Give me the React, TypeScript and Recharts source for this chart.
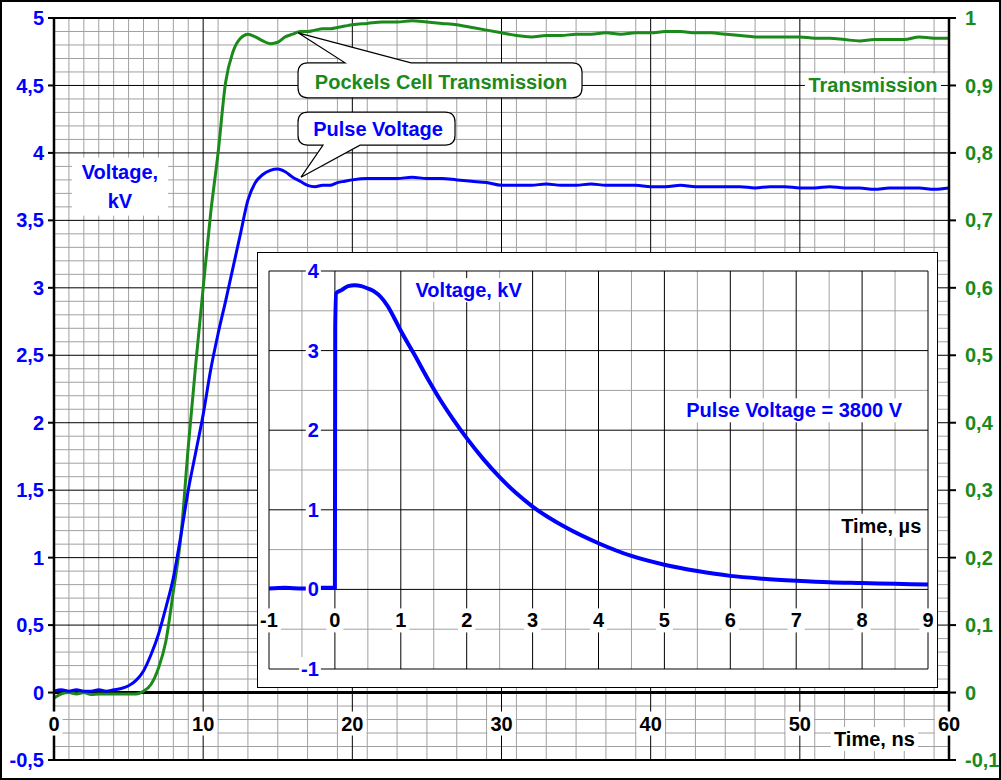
import React from 'react';
import {
  LineChart,
  Line,
  XAxis,
  YAxis,
  CartesianGrid,
  ReferenceLine,
  ReferenceDot,
} from 'recharts';

const FONT = '"Liberation Sans", Arial, Helvetica, sans-serif';
const BLUE = '#0000ff';
const GREEN = '#1b8a1b';
const GRID_MINOR = '#a0a0a0';

// ---------------------------------------------------------------------------
// main chart data (time in ns)
// ---------------------------------------------------------------------------
const TIME_NS = [
  0, 0.5, 1, 1.5, 2, 2.5, 3, 3.5, 4, 4.5, 5, 5.5, 6, 6.5, 7, 7.5, 8, 8.5, 9, 9.5,
  10, 10.5, 11, 11.5, 12, 12.5, 13, 13.5, 14, 14.5, 15, 15.5, 16, 16.5, 17, 17.5,
  18, 18.5, 19, 19.5, 20, 21, 22, 23, 24, 25, 26, 27, 28, 29, 30, 31, 32, 33, 34,
  35, 36, 37, 38, 39, 40, 41, 42, 43, 44, 45, 46, 47, 48, 49, 50, 51, 52, 53, 54,
  55, 56, 57, 58, 59, 60,
];

const VOLTAGE_KV = [
  0.01, 0.02, 0.01, 0.02, 0.01, 0.01, 0.02, 0.01, 0.02, 0.03,
  0.05, 0.09, 0.16, 0.28, 0.43, 0.63, 0.85, 1.16, 1.5, 1.78,
  2.06, 2.39, 2.66, 2.9, 3.15, 3.4, 3.65, 3.78, 3.84, 3.87,
  3.88, 3.86, 3.82, 3.79, 3.76, 3.75, 3.76, 3.76, 3.78, 3.79,
  3.8,
  3.81, 3.81, 3.81, 3.82, 3.81, 3.81, 3.8, 3.79, 3.78, 3.76,
  3.76, 3.76, 3.77, 3.76, 3.76, 3.77, 3.76, 3.76, 3.76, 3.75,
  3.75, 3.76, 3.75, 3.75, 3.75, 3.75, 3.74, 3.75, 3.75, 3.74,
  3.74, 3.75, 3.74, 3.74, 3.73, 3.74, 3.74, 3.74, 3.73, 3.74,
];

const TRANSMISSION = [
  -0.008, -0.002, 0, -0.002, 0, -0.003, -0.002, -0.002, -0.002, -0.002,
  -0.002, -0.002, 0.002, 0.012, 0.036, 0.076, 0.15, 0.23, 0.364, 0.486,
  0.6, 0.71, 0.8, 0.904, 0.95, 0.97, 0.976, 0.972, 0.966, 0.962,
  0.964, 0.972, 0.976, 0.98, 0.98, 0.982, 0.984, 0.984, 0.986, 0.988,
  0.99,
  0.992, 0.994, 0.994, 0.996, 0.994, 0.992, 0.99, 0.986, 0.982, 0.978,
  0.974, 0.972, 0.974, 0.974, 0.976, 0.976, 0.978, 0.976, 0.978, 0.978,
  0.98, 0.98, 0.978, 0.978, 0.976, 0.974, 0.972, 0.972, 0.972, 0.972,
  0.97, 0.97, 0.968, 0.966, 0.968, 0.968, 0.968, 0.972, 0.97, 0.97,
];

const X_TICKS_NS = [0, 10, 20, 30, 40, 50, 60];
const VOLT_TICKS = [-0.5, 0, 0.5, 1, 1.5, 2, 2.5, 3, 3.5, 4, 4.5, 5];
const TRANS_TICKS = [-0.1, 0, 0.1, 0.2, 0.3, 0.4, 0.5, 0.6, 0.7, 0.8, 0.9, 1];

// ---------------------------------------------------------------------------
// inset data (time in µs)
// ---------------------------------------------------------------------------
const TIME_US = [
  -1, -0.75, -0.5, -0.25, -0.02, 0, 0.005, 0.02, 0.1, 0.2, 0.3, 0.4, 0.5, 0.6,
  0.7, 0.8, 0.9, 1.0, 1.2, 1.4, 1.6, 1.8, 2.0, 2.25, 2.5, 2.75, 3.0, 3.5, 4.0,
  4.5, 5.0, 5.5, 6.0, 6.5, 7.0, 7.5, 8.0, 8.5, 9.0,
];

const INSET_VOLTAGE_KV = [
  0.01, 0.02, 0.01, 0.02, 0.02, 0.02, 3.3, 3.72, 3.76, 3.81, 3.82, 3.81, 3.78,
  3.74, 3.67, 3.56, 3.41, 3.25, 2.96, 2.66, 2.38, 2.13, 1.9, 1.64, 1.41, 1.21, 1.04,
  0.78, 0.58, 0.42, 0.31, 0.23, 0.17, 0.135, 0.11, 0.09, 0.08, 0.07, 0.06,
];

const INSET_X_TICKS = [-1, 0, 1, 2, 3, 4, 5, 6, 7, 8, 9];
const INSET_Y_TICKS = [-1, 0, 1, 2, 3, 4];

const mainData = TIME_NS.map((t, i) => ({ t, v: VOLTAGE_KV[i], tr: TRANSMISSION[i] }));
const insetData = TIME_US.map((t, i) => ({ t, v: INSET_VOLTAGE_KV[i] }));

// grid helpers
function steps(start: number, end: number, step: number): number[] {
  const n = Math.round((end - start) / step);
  return Array.from({ length: n + 1 }, (_, i) => +(start + i * step).toFixed(4));
}
const isMultiple = (v: number, m: number) => Math.abs(v / m - Math.round(v / m)) < 1e-6;

const MINOR_X_NS = steps(0, 60, 1).filter((v) => !isMultiple(v, 10));
const MINOR_Y_KV = steps(-0.5, 5, 0.1).filter((v) => !isMultiple(v, 0.5));
const INSET_MINOR_X = steps(-0.5, 8.5, 1);
const INSET_MINOR_Y = steps(-0.5, 3.5, 1);

const comma = (v: number) => String(v).replace('.', ',');

// ---------------------------------------------------------------------------
// text helpers
// ---------------------------------------------------------------------------
const CHAR_W: Record<string, number> = {
  '0': 0.556, '1': 0.556, '2': 0.556, '3': 0.556, '4': 0.556, '5': 0.556,
  '6': 0.556, '7': 0.556, '8': 0.556, '9': 0.556, ',': 0.278, '.': 0.278,
  '-': 0.333, ' ': 0.278, '=': 0.584, V: 0.667, P: 0.667, T: 0.611, C: 0.722,
  i: 0.278, l: 0.278, m: 0.889, e: 0.556, s: 0.556, n: 0.611, u: 0.611,
  'µ': 0.611, o: 0.611, t: 0.333, a: 0.556, g: 0.611, k: 0.556, r: 0.389, c: 0.556,
};
const textWidth = (s: string, size: number) =>
  s.split('').reduce((w, c) => w + (CHAR_W[c] ?? 0.6), 0) * size;

const LabelBox: React.FC<any> = ({ x, y, text, color = '#000', anchor = 'middle', pad = 3, bg = true }) => {
  const w = textWidth(text, 20);
  const left = anchor === 'middle' ? x - w / 2 : anchor === 'end' ? x - w : x;
  return (
    <g>
      {bg && <rect x={left - pad} y={y - 12} width={w + pad * 2} height={24} fill="#fff" />}
      <text
        x={x}
        y={y}
        textAnchor={anchor}
        dominantBaseline="central"
        fill={color}
        fontSize={20}
        fontWeight={700}
        fontFamily={FONT}
      >
        {text}
      </text>
    </g>
  );
};

// rounded box with a wedge pointing to the tip at (0, 0)
function calloutPath(
  x0: number, y0: number, x1: number, y1: number, r: number,
  side: 'top' | 'bottom', a: number, b: number,
) {
  const top = side === 'top' ? `L${a},${y0} L0,0 L${b},${y0} ` : '';
  const bottom = side === 'bottom' ? `L${b},${y1} L0,0 L${a},${y1} ` : '';
  return (
    `M${x0 + r},${y0} ${top}L${x1 - r},${y0} Q${x1},${y0} ${x1},${y0 + r} ` +
    `L${x1},${y1 - r} Q${x1},${y1} ${x1 - r},${y1} ${bottom}L${x0 + r},${y1} ` +
    `Q${x0},${y1} ${x0},${y1 - r} L${x0},${y0 + r} Q${x0},${y0} ${x0 + r},${y0} Z`
  );
}

const Callout: React.FC<any> = ({ cx, cy, box, side, a, b, text, color, tx, ty }) => (
  <g transform={`translate(${cx},${cy})`}>
    <path
      d={calloutPath(box[0], box[1], box[2], box[3], 10, side, a, b)}
      fill="#fff"
      stroke="#000"
      strokeWidth={1.2}
    />
    <LabelBox x={tx} y={ty} text={text} color={color} bg={false} />
  </g>
);

// ---------------------------------------------------------------------------
// inset chart
// ---------------------------------------------------------------------------
const InsetChart: React.FC = () => (
  <div
    style={{
      position: 'absolute',
      left: 257,
      top: 252,
      width: 681,
      height: 436,
      border: '1px solid #000',
      background: '#fff',
      boxSizing: 'border-box',
    }}
  >
    <LineChart
      width={679}
      height={434}
      data={insetData}
      margin={{ top: 18, right: 9, bottom: 18, left: 11 }}
    >
      <XAxis dataKey="t" type="number" domain={[-1, 9]} hide />
      <YAxis type="number" domain={[-1, 4]} hide />
      <CartesianGrid
        stroke={GRID_MINOR}
        verticalValues={INSET_MINOR_X}
        horizontalValues={INSET_MINOR_Y}
      />
      <CartesianGrid
        stroke="#000"
        verticalValues={INSET_X_TICKS}
        horizontalValues={INSET_Y_TICKS}
      />
      <Line
        dataKey="v"
        type="monotone"
        stroke={BLUE}
        strokeWidth={4}
        dot={false}
        isAnimationActive={false}
      />
      {INSET_X_TICKS.map((t) => (
        <ReferenceDot
          key={`ix${t}`}
          x={t}
          y={0}
          r={0}
          shape={(p: any) => <LabelBox x={p.cx} y={p.cy + 31} text={comma(t)} />}
        />
      ))}
      {INSET_Y_TICKS.map((v) => (
        <ReferenceDot
          key={`iy${v}`}
          x={0}
          y={v}
          r={0}
          shape={(p: any) => (
            <LabelBox x={p.cx - 16} y={p.cy} text={comma(v)} color={BLUE} anchor="end" pad={2} />
          )}
        />
      ))}
      <ReferenceDot
        x={2.03}
        y={3.76}
        r={0}
        shape={(p: any) => <LabelBox x={p.cx} y={p.cy} text="Voltage, kV" color={BLUE} />}
      />
      <ReferenceDot
        x={6.97}
        y={2.25}
        r={0}
        shape={(p: any) => <LabelBox x={p.cx} y={p.cy} text="Pulse Voltage = 3800 V" color={BLUE} />}
      />
      <ReferenceDot
        x={8.29}
        y={0.8}
        r={0}
        shape={(p: any) => <LabelBox x={p.cx} y={p.cy} text="Time, µs" />}
      />
    </LineChart>
  </div>
);

// ---------------------------------------------------------------------------
// main chart
// ---------------------------------------------------------------------------
const App: React.FC = () => (
  <div
    style={{
      position: 'absolute',
      left: 0,
      top: 0,
      width: 1001,
      height: 780,
      background: '#fff',
      fontFamily: FONT,
    }}
  >
    <LineChart
      width={1001}
      height={780}
      data={mainData}
      margin={{ top: 18, right: 0, bottom: 20, left: 0 }}
    >
      <XAxis dataKey="t" type="number" domain={[0, 60]} hide />
      <YAxis
        yAxisId="left"
        type="number"
        domain={[-0.5, 5]}
        ticks={VOLT_TICKS}
        interval={0}
        width={54}
        tickFormatter={comma}
        tickSize={6}
        tickMargin={4}
        axisLine={{ stroke: '#000', strokeWidth: 2.5 }}
        tickLine={{ stroke: '#000', strokeWidth: 2 }}
        tick={{ fill: BLUE, fontSize: 20, fontWeight: 700, fontFamily: FONT }}
      />
      <YAxis
        yAxisId="right"
        orientation="right"
        type="number"
        domain={[-0.1, 1]}
        ticks={TRANS_TICKS}
        interval={0}
        width={52}
        tickFormatter={comma}
        tickSize={7}
        tickMargin={9}
        axisLine={{ stroke: '#000', strokeWidth: 2.5 }}
        tickLine={{ stroke: '#000', strokeWidth: 2 }}
        tick={{ fill: GREEN, fontSize: 20, fontWeight: 700, fontFamily: FONT }}
      />
      <CartesianGrid
        yAxisId="left"
        stroke={GRID_MINOR}
        verticalValues={MINOR_X_NS}
        horizontalValues={MINOR_Y_KV}
      />
      <CartesianGrid
        yAxisId="left"
        stroke="#000"
        verticalValues={X_TICKS_NS}
        horizontalValues={VOLT_TICKS}
      />
      <ReferenceLine yAxisId="left" y={5} stroke="#000" strokeWidth={2} />
      <ReferenceLine yAxisId="left" y={-0.5} stroke="#000" strokeWidth={2} />
      <ReferenceLine yAxisId="left" y={0} stroke="#000" strokeWidth={3} />
      <Line
        yAxisId="right"
        dataKey="tr"
        type="monotone"
        stroke={GREEN}
        strokeWidth={3}
        dot={false}
        isAnimationActive={false}
      />
      <Line
        yAxisId="left"
        dataKey="v"
        type="monotone"
        stroke={BLUE}
        strokeWidth={3}
        dot={false}
        isAnimationActive={false}
      />
      {X_TICKS_NS.map((t) => (
        <ReferenceDot
          key={`x${t}`}
          yAxisId="left"
          x={t}
          y={0}
          r={0}
          shape={(p: any) => <LabelBox x={p.cx} y={p.cy + 31} text={String(t)} />}
        />
      ))}
      <ReferenceDot
        yAxisId="left"
        x={55.0}
        y={-0.345}
        r={0}
        shape={(p: any) => <LabelBox x={p.cx} y={p.cy} text="Time, ns" />}
      />
      <ReferenceDot
        yAxisId="right"
        x={54.9}
        y={0.9}
        r={0}
        shape={(p: any) => <LabelBox x={p.cx} y={p.cy} text="Transmission" color={GREEN} />}
      />
      <ReferenceDot
        yAxisId="left"
        x={4.42}
        y={3.75}
        r={0}
        shape={(p: any) => (
          <g>
            <rect x={p.cx - 48} y={p.cy - 29} width={96} height={58} fill="#fff" />
            <LabelBox x={p.cx} y={p.cy - 14.5} text="Voltage," color={BLUE} bg={false} />
            <LabelBox x={p.cx} y={p.cy + 14.5} text="kV" color={BLUE} bg={false} />
          </g>
        )}
      />
      <ReferenceDot
        yAxisId="left"
        x={16.36}
        y={4.89}
        r={0}
        shape={(p: any) => (
          <Callout
            cx={p.cx}
            cy={p.cy}
            box={[0, 30, 284, 65]}
            side="top"
            a={47}
            b={113}
            tx={143}
            ty={49}
            text="Pockels Cell Transmission"
            color={GREEN}
          />
        )}
      />
      <ReferenceDot
        yAxisId="left"
        x={16.56}
        y={3.82}
        r={0}
        shape={(p: any) => (
          <Callout
            cx={p.cx}
            cy={p.cy}
            box={[-3, -65, 154, -32]}
            side="bottom"
            a={22}
            b={59}
            tx={77}
            ty={-48}
            text="Pulse Voltage"
            color={BLUE}
          />
        )}
      />
    </LineChart>
    <InsetChart />
    <div
      style={{
        position: 'absolute',
        left: 0,
        top: 0,
        width: 1001,
        height: 780,
        border: '2px solid #000',
        boxSizing: 'border-box',
        pointerEvents: 'none',
      }}
    />
  </div>
);

export default App;
